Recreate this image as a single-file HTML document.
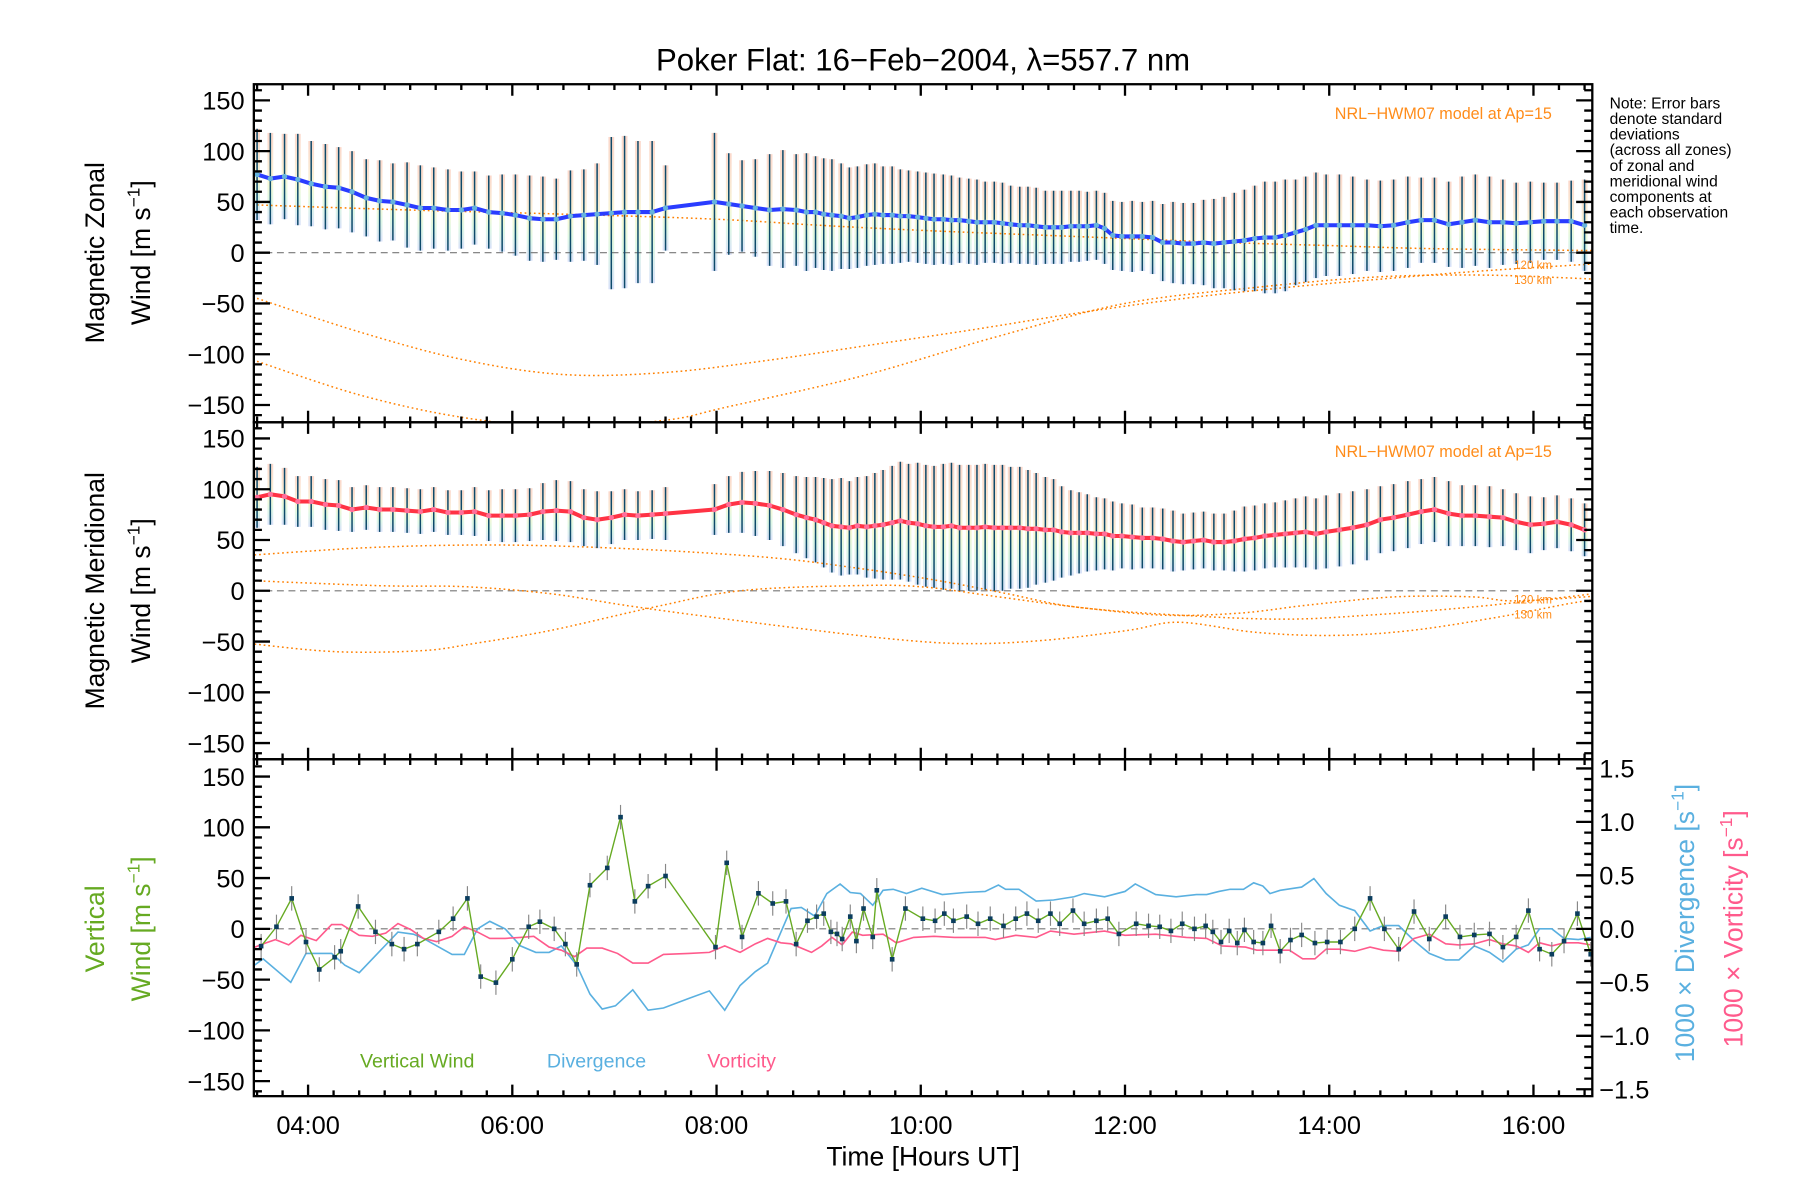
<!DOCTYPE html>
<html><head><meta charset="utf-8"><title>Poker Flat winds</title>
<style>
html,body{margin:0;padding:0;background:#fff;}
svg{display:block;font-family:"Liberation Sans",sans-serif;}
</style></head>
<body>
<svg id="chart" width="1800" height="1200" viewBox="0 0 1560 1040" preserveAspectRatio="none" xmlns="http://www.w3.org/2000/svg">
<defs>
<linearGradient id="band" x1="0" y1="0" x2="0" y2="1">
<stop offset="0" stop-color="#f8b8a0"/><stop offset="0.35" stop-color="#f4d8b0"/><stop offset="0.55" stop-color="#eef2b0"/><stop offset="0.75" stop-color="#c0f0d0"/><stop offset="1" stop-color="#b8c8f4"/>
</linearGradient>
<clipPath id="c0"><rect x="220" y="73" width="1160" height="293"/></clipPath>
<clipPath id="c1"><rect x="220" y="366" width="1160" height="292"/></clipPath>
<clipPath id="c2"><rect x="220" y="658" width="1160" height="292"/></clipPath>
</defs>
<text x="800" y="61" font-size="27" text-anchor="middle">Poker Flat: 16−Feb−2004, λ=557.7 nm</text>
<g id="layer"></g>
<g font-size="13.5" fill="#000">
<text x="1395" y="94">Note: Error bars</text>
<text x="1395" y="107.5">denote standard</text>
<text x="1395" y="121">deviations</text>
<text x="1395" y="134.5">(across all zones)</text>
<text x="1395" y="148">of zonal and</text>
<text x="1395" y="161.5">meridional wind</text>
<text x="1395" y="175">components at</text>
<text x="1395" y="188.5">each observation</text>
<text x="1395" y="202">time.</text>
</g>
<text transform="translate(90,219) rotate(-90)" font-size="23" text-anchor="middle">Magnetic Zonal</text>
<text transform="translate(130,219) rotate(-90)" font-size="23" text-anchor="middle">Wind [m s<tspan font-size="15" dy="-9">−1</tspan><tspan dy="9">]</tspan></text>
<text transform="translate(90,512) rotate(-90)" font-size="23" text-anchor="middle">Magnetic Meridional</text>
<text transform="translate(130,512) rotate(-90)" font-size="23" text-anchor="middle">Wind [m s<tspan font-size="15" dy="-9">−1</tspan><tspan dy="9">]</tspan></text>
<text transform="translate(90,805) rotate(-90)" font-size="23" text-anchor="middle" fill="#66aa22">Vertical</text>
<text transform="translate(130,805) rotate(-90)" font-size="23" text-anchor="middle" fill="#66aa22">Wind [m s<tspan font-size="15" dy="-9">−1</tspan><tspan dy="9">]</tspan></text>
<text transform="translate(1468,800) rotate(-90)" font-size="23" text-anchor="middle" fill="#5ab0e0">1000 × Divergence [s<tspan font-size="15" dy="-9">−1</tspan><tspan dy="9">]</tspan></text>
<text transform="translate(1510,805) rotate(-90)" font-size="23" text-anchor="middle" fill="#ff5a8c">1000 × Vorticity [s<tspan font-size="15" dy="-9">−1</tspan><tspan dy="9">]</tspan></text>
<text x="800" y="1010" font-size="23" text-anchor="middle">Time [Hours UT]</text>
<text x="1345" y="103" font-size="14" fill="#ff8c1a" text-anchor="end">NRL−HWM07 model at Ap=15</text>
<text x="1345" y="396" font-size="14" fill="#ff8c1a" text-anchor="end">NRL−HWM07 model at Ap=15</text>
<text x="1345" y="233" font-size="10" fill="#ff8c1a" text-anchor="end">120 km</text>
<text x="1345" y="246" font-size="10" fill="#ff8c1a" text-anchor="end">130 km</text>
<text x="1345" y="523" font-size="10" fill="#ff8c1a" text-anchor="end">120 km</text>
<text x="1345" y="536" font-size="10" fill="#ff8c1a" text-anchor="end">130 km</text>
<text x="312" y="925" font-size="17" fill="#66aa22">Vertical Wind</text>
<text x="474" y="925" font-size="17" fill="#5ab0e0">Divergence</text>
<text x="613" y="925" font-size="17" fill="#ff5a8c">Vorticity</text>
</svg>
<script>
const obsTimes=[3.50,3.63,3.77,3.90,4.03,4.17,4.30,4.43,4.57,4.70,
4.83,4.97,5.10,5.23,5.37,5.50,5.63,5.77,5.90,6.03,
6.17,6.30,6.43,6.57,6.70,6.83,6.97,7.10,7.23,7.37,
7.50,7.98,8.12,8.25,8.38,8.52,8.65,8.78,8.88,8.97,
9.05,9.13,9.22,9.30,9.38,9.47,9.55,9.63,9.72,9.80,
9.88,9.97,10.05,10.13,10.22,10.30,10.38,10.47,10.55,10.63,
10.72,10.80,10.88,10.97,11.05,11.13,11.22,11.30,11.38,11.47,
11.55,11.63,11.72,11.80,11.88,11.97,12.07,12.17,12.27,12.37,
12.47,12.57,12.67,12.77,12.87,12.97,13.07,13.17,13.27,13.37,
13.47,13.57,13.67,13.77,13.87,13.97,14.10,14.23,14.37,14.50,
14.63,14.77,14.90,15.03,15.17,15.30,15.43,15.57,15.70,15.83,
15.97,16.10,16.23,16.37,16.50];
const zonalMean=[77,73,75,72,68,65,64,60,54,51,
50,47,44,44,42,42,44,40,39,37,
34,33,33,36,37,38,39,40,40,40,
44,50,48,46,44,42,43,42,40,40,
38,37,36,34,35,37,38,37,37,36,
36,35,34,33,33,32,32,31,30,30,
30,29,28,27,27,26,25,25,25,26,
26,26,27,24,17,16,16,16,15,10,
10,9,9,10,9,10,11,12,14,15,
15,17,20,23,27,27,27,27,27,26,
27,30,32,32,28,30,32,30,30,29,
30,31,31,31,27];
const zonalSD=[45,45,42,45,42,42,40,40,38,40,
38,42,42,40,40,38,36,36,38,40,
42,42,40,45,45,50,75,75,70,70,
42,68,50,45,48,55,58,55,58,55,
55,55,52,50,50,50,50,48,48,46,
45,45,45,45,44,44,42,42,42,40,
40,40,38,38,38,38,36,36,36,35,
35,34,34,35,34,34,35,34,36,38,
40,40,40,42,44,45,48,50,52,55,
55,55,52,52,52,50,50,48,45,45,
45,45,42,42,42,45,45,45,42,40,
40,38,38,40,45];
const meridMean=[92,95,93,88,88,85,84,80,82,80,
80,79,78,80,77,77,78,74,74,74,
75,78,79,78,72,70,72,75,74,75,
76,80,85,87,86,84,80,75,72,70,
67,64,63,62,64,63,64,65,67,69,
67,66,64,63,63,64,62,62,62,63,
62,62,62,62,61,61,60,60,58,57,
57,57,56,56,54,54,53,52,52,51,
49,48,49,50,48,48,49,51,52,54,
55,56,57,58,56,58,60,62,65,70,
72,75,78,80,76,74,74,73,72,68,
65,66,68,65,60];
const meridSD=[30,30,28,25,25,25,25,22,22,22,
22,22,22,22,22,22,24,25,26,26,
26,28,30,30,28,28,26,25,24,24,
26,25,28,30,32,34,36,38,40,42,
44,46,48,46,48,50,52,54,56,58,
58,60,60,60,62,62,62,62,62,62,
62,62,60,60,58,55,52,50,45,42,
40,38,36,35,34,32,32,30,30,30,
30,28,28,28,28,28,30,32,32,32,
32,33,34,35,35,36,36,36,35,33,
33,33,32,32,32,30,30,30,28,28,
28,26,26,26,26];
const zonModelAH=[3.5,4.5,5.5,6.5,7.5,8.5,9.5,10.5,11.5,12.5,13.5,14.5,15.5,16.6];
const zonModelAV=[-45,-78,-105,-120,-118,-106,-91,-76,-60,-46,-35,-26,-18,-11];
const zonModelBH=[3.5,4.5,5.5,6.5,7.5,8.1,9.4,10.7,12.0,13.3,14.45,15.5,16.6];
const zonModelBV=[-107,-140,-162,-172,-165,-152,-122,-84,-50,-34,-24,-22,-26];
const zonModelCH=[3.5,5.0,6.5,8.0,9.0,10.0,11.0,12.0,13.0,14.0,15.0,16.6];
const zonModelCV=[47,42,38,33,27,22,18,14,10,7,4,2];
const merModelAH=[3.43,4.7,5.96,7.22,8.49,9.33,10.17,10.85,11.52,12.53,13.55,14.39,15.4,16.33,16.65];
const merModelAV=[35,43,45,41,33,23,10,-3,-16,-24,-28,-24,-16,-6,-2];
const merModelBH=[3.43,4.7,5.54,6.38,7.22,8.49,9.67,10.43,11.19,12.03,12.53,13.29,14.05,14.81,15.65,16.33,16.65];
const merModelBV=[10,5,4,-3,-16,-33,-47,-52,-49,-39,-31,-41,-44,-39,-26,-13,-8];
const merModelCH=[3.43,4.27,5.12,5.62,6.38,7.39,8.23,9.33,10.0,10.76,11.52,12.36,13.12,13.8,14.64,15.4,15.82,16.65];
const merModelCV=[-52,-60,-59,-52,-39,-16,0,5,4,-6,-16,-24,-22,-14,-6,-6,-10,-5];
const vwTimes=[3.54,3.69,3.84,3.98,4.11,4.26,4.32,4.49,4.66,4.82,4.94,5.07,5.28,5.42,5.56,5.69,5.84,6.0,6.16,6.27,6.41,6.52,6.63,6.76,6.93,7.06,7.2,7.33,7.5,7.99,8.1,8.25,8.41,8.55,8.68,8.78,8.89,8.98,9.05,9.12,9.18,9.23,9.31,9.37,9.44,9.53,9.57,9.72,9.85,
10.02,10.14,10.23,10.32,10.45,10.56,10.68,10.81,10.93,11.04,11.15,11.27,11.36,11.49,11.6,11.72,11.83,11.94,12.11,12.23,12.34,12.45,12.56,12.68,12.79,
12.86,12.94,13.02,13.1,13.17,13.26,13.35,13.43,13.52,13.62,13.73,13.86,13.98,14.11,14.25,14.4,14.54,14.68,14.83,14.98,15.14,15.28,15.42,15.57,15.7,15.83,15.95,16.06,16.18,16.3,16.43,16.56];
const vwValues=[-17,2,30,-13,-40,-28,-22,22,-3,-15,-20,-15,-3,10,30,-47,-53,-30,2,7,0,-15,-35,43,60,110,27,42,52,-18,65,-8,35,25,27,-15,8,12,15,-3,-5,-10,12,-12,20,-8,38,-30,20,
10,8,15,8,12,5,10,3,10,15,8,15,5,18,5,8,10,-5,5,3,2,-2,5,0,3,
-3,-13,-2,-14,-1,-13,-14,3,-22,-11,-6,-14,-13,-13,0,30,0,-20,17,-10,12,-8,-6,-5,-18,-8,18,-20,-25,-12,15,-25];
const vwErr=12;
const divTimes=[3.43,3.56,3.83,3.98,4.23,4.36,4.5,4.63,4.88,5.03,5.13,5.41,5.53,5.66,5.78,5.93,6.08,6.23,6.36,6.48,6.63,6.76,6.88,7.01,7.18,7.33,7.48,7.73,7.93,8.08,8.23,8.38,8.5,8.63,8.73,8.83,8.96,9.08,9.21,9.31,9.41,9.53,9.63,9.73,9.86,10.01,10.21,10.43,10.63,10.76,10.83,10.96,11.13,11.3,11.5,11.6,11.8,12.0,12.1,12.3,12.5,12.7,12.8,12.92,13.03,13.16,13.26,13.35,13.42,13.52,13.73,13.85,13.97,14.1,14.25,14.4,14.53,14.68,14.83,14.98,15.14,15.27,15.42,15.57,15.7,15.83,15.95,16.06,16.18,16.3,16.44,16.56];
const divValues=[-0.37,-0.28,-0.5,-0.23,-0.23,-0.34,-0.41,-0.28,-0.03,-0.05,-0.09,-0.24,-0.24,0,0.07,0,-0.16,-0.22,-0.22,-0.16,-0.34,-0.61,-0.75,-0.72,-0.57,-0.76,-0.74,-0.65,-0.58,-0.76,-0.53,-0.4,-0.32,-0.03,0.19,0.2,0.12,0.33,0.42,0.34,0.33,0.22,0.36,0.37,0.33,0.38,0.32,0.34,0.35,0.41,0.37,0.37,0.26,0.27,0.3,0.33,0.3,0.35,0.42,0.32,0.3,0.32,0.32,0.35,0.37,0.37,0.43,0.4,0.33,0.36,0.39,0.47,0.33,0.22,0.17,-0.02,0.03,0.03,-0.11,-0.23,-0.29,-0.29,-0.16,-0.22,-0.31,-0.19,-0.15,0,0,-0.09,-0.1,-0.08];
const vorTimes=[3.43,3.56,3.68,3.81,3.93,4.08,4.23,4.33,4.5,4.63,4.76,4.88,5.01,5.13,5.26,5.41,5.53,5.66,5.78,5.93,6.08,6.21,6.36,6.48,6.61,6.73,6.88,7.03,7.18,7.33,7.48,7.73,7.93,8.08,8.23,8.38,8.5,8.63,8.73,8.93,9.03,9.13,9.23,9.33,9.43,9.63,9.76,9.93,10.13,10.33,10.63,10.73,10.93,11.13,11.27,11.5,11.8,12.0,12.3,12.6,12.8,12.95,13.18,13.29,13.61,13.74,13.86,13.97,14.1,14.25,14.4,14.53,14.68,14.83,14.98,15.14,15.27,15.42,15.57,15.7,15.83,15.95,16.06,16.18,16.3,16.44,16.56];
const vorValues=[-0.19,-0.14,-0.10,-0.15,-0.06,-0.11,0.04,0.04,-0.06,-0.07,-0.04,0.05,-0.01,-0.09,-0.12,-0.07,0.02,-0.03,-0.09,-0.09,-0.08,-0.07,-0.17,-0.2,-0.26,-0.18,-0.18,-0.23,-0.32,-0.32,-0.24,-0.23,-0.22,-0.16,-0.22,-0.14,-0.09,-0.13,-0.14,-0.22,-0.16,-0.08,-0.15,-0.03,-0.06,-0.05,-0.13,-0.08,-0.07,-0.08,-0.08,-0.1,-0.06,-0.08,-0.02,-0.05,-0.02,-0.06,-0.05,-0.08,-0.09,-0.16,-0.17,-0.2,-0.2,-0.28,-0.28,-0.19,-0.19,-0.21,-0.17,-0.2,-0.21,-0.09,-0.05,-0.14,-0.15,-0.14,-0.1,-0.14,-0.16,-0.22,-0.13,-0.16,-0.13,-0.13,-0.15];
const yLabels=[150,100,50,0,-50,-100,-150];
const rLabels=["1.5","1.0","0.5","0.0","−0.5","−1.0","−1.5"];
const rValues=[1.5,1,0.5,0,-0.5,-1,-1.5];
const xLabels=["04:00","06:00","08:00","10:00","12:00","14:00","16:00"];
const xHours=[4,6,8,10,12,14,16];

const NS="http://www.w3.org/2000/svg";
const X0=220,X1=1380;
const TOPS=[73,366,658],BOTS=[366,658,950],ZERO=[219,512,805];
function xs(h){return 267+(h-4)*88.5;}
function ys(v,p){return ZERO[p]-v*0.88;}
function yr(v){return 805-v*92.7;}
const layer=document.getElementById('layer');
function mk(tag,attrs,parent){const e=document.createElementNS(NS,tag);for(const k in attrs)e.setAttribute(k,attrs[k]);(parent||layer).appendChild(e);return e;}
function smooth(pts){
  let d="M"+pts[0][0].toFixed(1)+","+pts[0][1].toFixed(1);
  for(let i=0;i<pts.length-1;i++){
    const p0=pts[Math.max(0,i-1)],p1=pts[i],p2=pts[i+1],p3=pts[Math.min(pts.length-1,i+2)];
    const c1=[p1[0]+(p2[0]-p0[0])/6,p1[1]+(p2[1]-p0[1])/6],c2=[p2[0]-(p3[0]-p1[0])/6,p2[1]-(p3[1]-p1[1])/6];
    d+=" C"+c1[0].toFixed(1)+","+c1[1].toFixed(1)+" "+c2[0].toFixed(1)+","+c2[1].toFixed(1)+" "+p2[0].toFixed(1)+","+p2[1].toFixed(1);
  }
  return d;
}
function poly(hs,vs,fy){const n=Math.min(hs.length,vs.length);let d="";for(let i=0;i<n;i++){d+=(i?"L":"M")+xs(hs[i]).toFixed(1)+","+fy(vs[i]).toFixed(1);}return d;}

const panelData=[[zonalMean,zonalSD,"#2a3cff","#66b4dc"],[meridMean,meridSD,"#ff3344","#ff6f9a"]];
const modelSets=[[[zonModelAH,zonModelAV],[zonModelBH,zonModelBV],[zonModelCH,zonModelCV]],[[merModelAH,merModelAV],[merModelBH,merModelBV],[merModelCH,merModelCV]]];
for(let p=0;p<2;p++){
  const g=mk('g',{'clip-path':'url(#c'+p+')'});
  
  
  const [mean,sd,lc,dc]=panelData[p];
  const n=Math.min(obsTimes.length,mean.length,sd.length);
  for(let i=0;i<n;i++){
    const x=xs(obsTimes[i]);
    const band=mk('rect',{x:(x-2.5).toFixed(1),y:ys(mean[i]+sd[i],p).toFixed(1),width:5,height:(sd[i]*2*0.88).toFixed(1),fill:'url(#band)',opacity:0.55},g);
    
    
  }
  const zl=mk('line',{x1:X0,x2:X1,y1:ZERO[p],y2:ZERO[p],stroke:'#777',"stroke-width":1,"stroke-dasharray":"6 4"},g);
  
  
  modelSets[p].forEach((m,k)=>{
    const pts=[];for(let i=0;i<Math.min(m[0].length,m[1].length);i++)pts.push([xs(m[0][i]),ys(m[1][i],p)]);
    const c=mk('path',{d:smooth(pts),fill:'none',stroke:'#ff8000',"stroke-width":1.3,"stroke-dasharray":"1.5 2.5"},g);
    
    
  });
  for(let i=0;i<n;i++){
    const x=xs(obsTimes[i]);
    const eb=mk('line',{x1:x.toFixed(1),x2:x.toFixed(1),y1:ys(mean[i]+sd[i],p).toFixed(1),y2:ys(mean[i]-sd[i],p).toFixed(1),stroke:'#0e4a6a',"stroke-width":1.3},g);
    
    
  }
  const line=mk('path',{d:poly(obsTimes,mean,v=>ys(v,p)),fill:'none',stroke:lc,"stroke-width":3.5,"stroke-linejoin":"round"},g);
  
  
  for(let i=0;i<n;i++){
    const dot=mk('circle',{cx:xs(obsTimes[i]).toFixed(1),cy:ys(mean[i],p).toFixed(1),r:2.3,fill:dc},g);
    
    
  }
}
{
  const g=mk('g',{'clip-path':'url(#c2)'});
  
  
  const zl=mk('line',{x1:X0,x2:X1,y1:ZERO[2],y2:ZERO[2],stroke:'#777',"stroke-width":1,"stroke-dasharray":"6 4"},g);
  
  
  const dv=mk('path',{d:poly(divTimes,divValues,yr),fill:'none',stroke:'#5ab0e0',"stroke-width":1.4},g);
  
  
  const vo=mk('path',{d:poly(vorTimes,vorValues,yr),fill:'none',stroke:'#ff5a8c',"stroke-width":1.4},g);
  
  
  const n=Math.min(vwTimes.length,vwValues.length);
  for(let i=0;i<n;i++){
    const x=xs(vwTimes[i]);
    const eb=mk('line',{x1:x.toFixed(1),x2:x.toFixed(1),y1:ys(vwValues[i]+vwErr,2).toFixed(1),y2:ys(vwValues[i]-vwErr,2).toFixed(1),stroke:'#888',"stroke-width":1},g);
    
    
  }
  const vw=mk('path',{d:poly(vwTimes,vwValues,v=>ys(v,2)),fill:'none',stroke:'#66aa22',"stroke-width":1.2},g);
  
  
  for(let i=0;i<n;i++){
    const m=mk('rect',{x:(xs(vwTimes[i])-2).toFixed(1),y:(ys(vwValues[i],2)-2).toFixed(1),width:4,height:4,fill:'#0b3d5e'},g);
    
    
  }
}
for(let p=0;p<3;p++){
  const fr=mk('rect',{x:X0,y:TOPS[p],width:X1-X0,height:BOTS[p]-TOPS[p],fill:'none',stroke:'#000',"stroke-width":2});
  
  
  let d="";
  for(let v=-160;v<=160;v+=10){
    const y=ys(v,p);if(y<TOPS[p]+1||y>BOTS[p]-1)continue;
    const L=(v%50===0)?14:7;
    d+="M"+X0+","+y+"h"+L;
    if(p<2)d+="M"+X1+","+y+"h"+(-L);
  }
  if(p===2){for(let k=-16;k<=16;k++){const v=k/10;const y=yr(v);if(y<TOPS[p]+1||y>BOTS[p]-1)continue;const L=(k%5===0)?14:7;d+="M"+X1+","+y.toFixed(1)+"h"+(-L);}}
  for(let q=0;q*0.25+3.5<=16.6;q++){
    const h=3.5+q*0.25;const x=xs(h);if(x<X0+1||x>X1-1)continue;
    const L=(Math.abs(h%2)<1e-6)?10:5;
    d+="M"+x.toFixed(1)+","+TOPS[p]+"v"+L+"M"+x.toFixed(1)+","+BOTS[p]+"v"+(-L);
  }
  const t=mk('path',{d:d,stroke:'#000',"stroke-width":2,fill:'none'});
  
  
  yLabels.forEach(v=>{
    const tx=mk('text',{x:212,y:(ys(v,p)+8).toFixed(1),"font-size":22,"text-anchor":"end"});
    tx.textContent=v<0?"−"+Math.abs(v):String(v);
    
    
  });
}
rLabels.forEach((s,i)=>{
  const tx=mk('text',{x:1386,y:(yr(rValues[i])+8).toFixed(1),"font-size":22});
  tx.textContent=s;
  
  
});
xLabels.forEach((s,i)=>{
  const tx=mk('text',{x:xs(xHours[i]).toFixed(1),y:983,"font-size":22,"text-anchor":"middle"});
  tx.textContent=s;
  
  
});
</script>
</body></html>
